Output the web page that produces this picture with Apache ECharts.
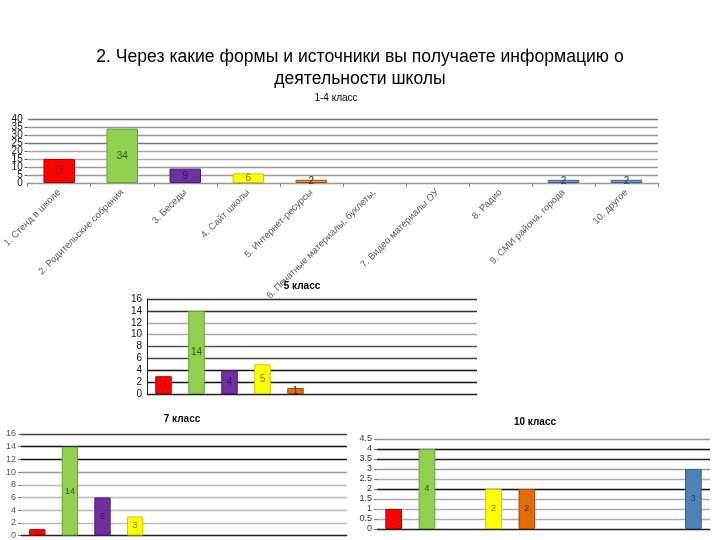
<!DOCTYPE html>
<html>
<head>
<meta charset="utf-8">
<script src="https://cdn.jsdelivr.net/npm/echarts@6/dist/echarts.min.js"></script>
<style>html,body{margin:0;padding:0;background:#fff}#c{width:720px;height:540px}</style>
</head>
<body>
<div id="c"></div>
<script>
const mainTitle = "2. Через какие формы и источники вы получаете информацию о\nдеятельности школы";
const categories = ["1. Стенд в школе","2. Родительские собрания","3. Беседы","4. Сайт школы","5. Интернет-ресурсы","6. Печатные материалы, буклеты,","7. Видео материалы ОУ","8. Радио","9. СМИ района, города","10. другое"];
const chartTitles = ["1-4 класс","5 класс","7 класс","10 класс"];
const values14 = [15,34,9,6,2,0,0,0,2,2];
const values5 = [3,14,4,5,1,0,0,0,0,0];
const values7 = [1,14,6,3,0,0,0,0,0,0];
const values10 = [1,4,0,2,2,0,0,0,0,3];

const fill = ['#ff0000','#92d050','#7030a0','#ffff00','#e36c09','#4f81bd','#4f81bd','#4f81bd','#4f81bd','#4f81bd'];
const fillTop = ['#ff0000','#92d050','#7030a0','#ffff00','#dc9858','#7b97bf','#7b97bf','#7b97bf','#7b97bf','#7b97bf'];
const border = ['#b00000','#6f9f3a','#4a1a78','#c8c800','#a0500a','#38608f','#38608f','#38608f','#38608f','#38608f'];
const labelCol = ['#990000','#2c5a10','#3a1060','#7a7a00','#4a2800','#1e3a62','#1e3a62','#1e3a62','#1e3a62','#1e3a62'];

const FF = '"Liberation Sans", Arial, sans-serif';

function mkData(vals, colors) {
  return vals.map((v, i) => ({
    value: v,
    itemStyle: { color: colors[i], borderColor: border[i], borderWidth: v ? 1 : 0, opacity: v ? 1 : 0 },
    label: { color: labelCol[i] }
  }));
}
function lbl(fs) {
  return { show: true, position: 'inside', fontSize: fs, fontFamily: FF,
    formatter: p => (p.value ? String(p.value) : '') };
}

const chart = echarts.init(document.getElementById('c'), null, { renderer: 'canvas' });
chart.setOption({
  animation: false,
  backgroundColor: '#fff',
  title: [
    { text: mainTitle, left: 360, textAlign: 'center', top: 46, padding: 0,
      textStyle: { fontSize: 17.6, fontWeight: 'normal', color: '#000', lineHeight: 22, fontFamily: FF } },
    { text: chartTitles[0], left: 336, textAlign: 'center', top: 93, padding: 0,
      textStyle: { fontSize: 10, fontWeight: 'normal', color: '#000', fontFamily: FF } },
    { text: chartTitles[1], left: 302, textAlign: 'center', top: 281, padding: 0,
      textStyle: { fontSize: 10, fontWeight: 'bold', color: '#000', fontFamily: FF } },
    { text: chartTitles[2], left: 182, textAlign: 'center', top: 414, padding: 0,
      textStyle: { fontSize: 10, fontWeight: 'bold', color: '#000', fontFamily: FF } },
    { text: chartTitles[3], left: 535, textAlign: 'center', top: 417, padding: 0,
      textStyle: { fontSize: 10, fontWeight: 'bold', color: '#000', fontFamily: FF } }
  ],
  grid: [
    { left: 26, top: 119, width: 632, height: 64 },
    { left: 147, top: 299, width: 330, height: 95 },
    { left: 21, top: 434, width: 326, height: 102 },
    { left: 377, top: 439, width: 333, height: 90 }
  ],
  xAxis: [
    { type: 'category', gridIndex: 0, data: categories,
      axisLine: { lineStyle: { color: '#999', width: 1 } },
      axisTick: { show: true, length: 4, lineStyle: { color: '#888' } },
      axisLabel: { interval: 0, rotate: 45, fontSize: 9.5, color: '#595959', margin: 8, fontFamily: FF } },
    { type: 'category', gridIndex: 1, data: categories,
      axisLine: { lineStyle: { color: '#222', width: 1 } }, axisTick: { show: false }, axisLabel: { show: false } },
    { type: 'category', gridIndex: 2, data: categories,
      axisLine: { lineStyle: { color: '#222', width: 1 } }, axisTick: { show: false }, axisLabel: { show: false } },
    { type: 'category', gridIndex: 3, data: categories,
      axisLine: { lineStyle: { color: '#222', width: 1 } }, axisTick: { show: false }, axisLabel: { show: false } }
  ],
  yAxis: [
    { type: 'value', gridIndex: 0, min: 0, max: 40, interval: 5, position: 'left',
      axisLine: { show: false }, axisTick: { show: true, length: 3, lineStyle: { color: '#555' } },
      axisLabel: { fontSize: 10, color: '#111', margin: 5, fontFamily: FF,
        showMinLabel: false, showMaxLabel: false,
        formatter: v => (v % 10 ? String(v) : '') },
      splitLine: { lineStyle: { color: ['#999','#999','#999','#aaa','#aaa','#777','#999','#999','#777'], width: 1.3 } } },
    { type: 'value', gridIndex: 1, min: 0, max: 16, interval: 2,
      axisLine: { show: true, lineStyle: { color: '#222' } }, axisTick: { show: false },
      axisLabel: { fontSize: 10, color: '#111', margin: 5, fontFamily: FF, showMinLabel: true, showMaxLabel: true },
      splitLine: { lineStyle: { color: ['#222','#111','#111','#444','#555','#aaa','#aaa','#333','#333'], width: 1.3 } } },
    { type: 'value', gridIndex: 2, min: 0, max: 16, interval: 2,
      axisLine: { show: false }, axisTick: { show: true, length: 3, lineStyle: { color: '#777' } },
      axisLabel: { fontSize: 9, color: '#555', margin: 5, fontFamily: FF, showMinLabel: true, showMaxLabel: true },
      splitLine: { lineStyle: { color: ['#222','#bbb','#bbb','#bbb','#bbb','#999','#111','#111','#444'], width: 1.3 } } },
    { type: 'value', gridIndex: 3, min: 0, max: 4.5, interval: 0.5,
      axisLine: { show: false }, axisTick: { show: true, length: 3, lineStyle: { color: '#777' } },
      axisLabel: { fontSize: 9, color: '#333', margin: 5, fontFamily: FF, showMinLabel: true, showMaxLabel: true },
      splitLine: { lineStyle: { color: ['#222','#aaa','#aaa','#aaa','#111','#aaa','#999','#222','#111','#999'], width: 1.3 } } },
    { type: 'value', gridIndex: 0, min: 0, max: 40, interval: 10, position: 'left', offset: 0,
      axisLine: { show: false }, axisTick: { show: false }, splitLine: { show: false },
      axisLabel: { fontSize: 10, color: '#111', margin: 5, fontFamily: FF, showMinLabel: true, showMaxLabel: true } }
  ],
  series: [
    { type: 'bar', xAxisIndex: 0, yAxisIndex: 0, barWidth: '50%', data: mkData(values14, fillTop), label: lbl(10) },
    { type: 'bar', xAxisIndex: 1, yAxisIndex: 1, barWidth: '50%', data: mkData(values5, fill), label: lbl(10) },
    { type: 'bar', xAxisIndex: 2, yAxisIndex: 2, barWidth: '50%', data: mkData(values7, fill), label: lbl(9) },
    { type: 'bar', xAxisIndex: 3, yAxisIndex: 3, barWidth: '50%', data: mkData(values10, fill), label: lbl(9) }
  ]
});
</script>
</body>
</html>
